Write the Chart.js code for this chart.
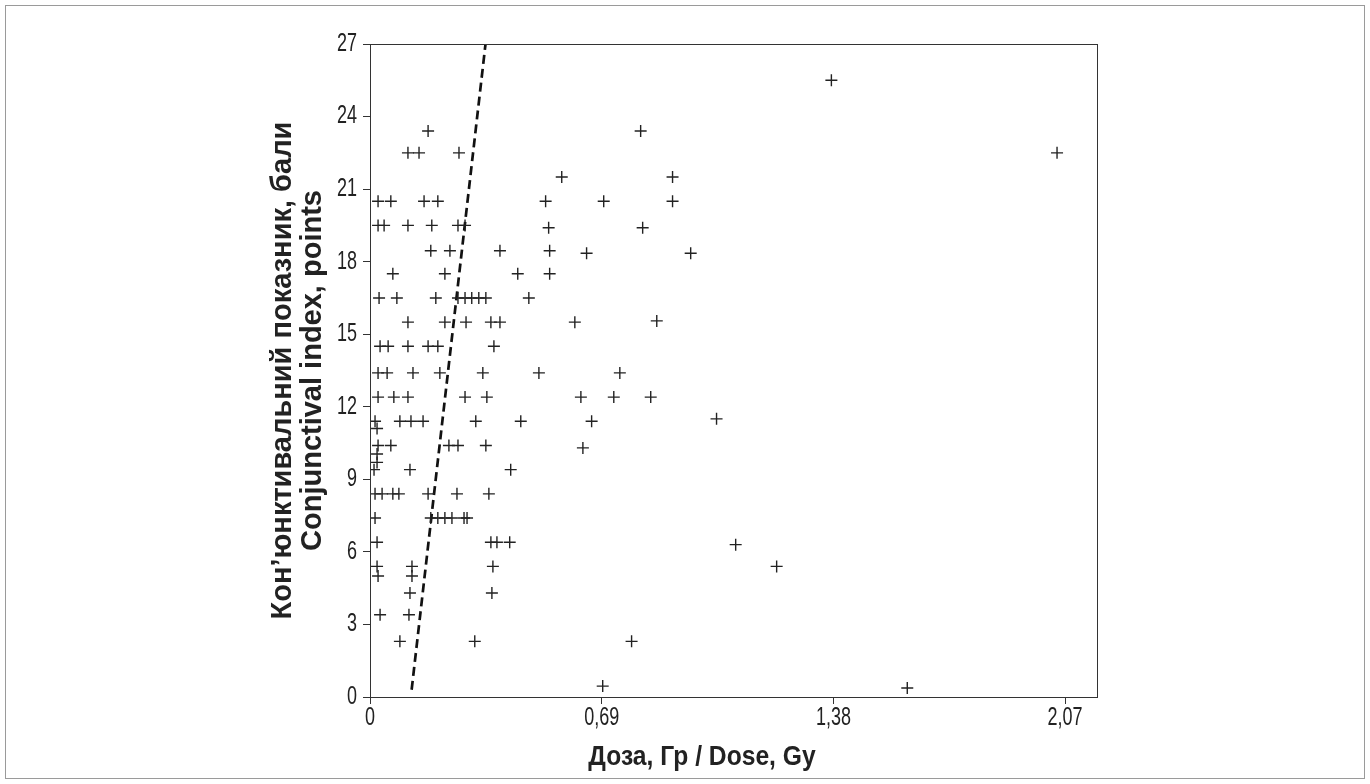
<!DOCTYPE html>
<html>
<head>
<meta charset="utf-8">
<script src="https://cdn.jsdelivr.net/npm/chart.js@4.4.1/dist/chart.umd.min.js"></script>
<style>
  body { margin: 0; background: #ffffff; }
  #wrap { position: relative; width: 1370px; height: 784px; }
  #frame {
    position: absolute; left: 5px; top: 5px; width: 1358px; height: 772px;
    border: 1px solid #9a9a9a; pointer-events: none;
  }
</style>
</head>
<body>
<div id="wrap">
  <canvas id="doseChart" width="1370" height="784"></canvas>
  <div id="frame"></div>
</div>
<script>
// dose (Gy) and conjunctival index (points)
const doseGy = [
  1.374,
  0.173, 0.806,
  0.113, 0.146, 0.265, 2.046,
  0.571, 0.901,
  0.024, 0.062, 0.161, 0.202, 0.523, 0.696, 0.901,
  0.024, 0.042, 0.113, 0.184, 0.262, 0.283, 0.532, 0.812,
  0.181, 0.238, 0.387, 0.535, 0.645, 0.955,
  0.068, 0.223, 0.440, 0.535,
  0.027, 0.080, 0.196, 0.262, 0.283, 0.303, 0.324, 0.345, 0.473,
  0.113, 0.223, 0.286, 0.360, 0.387, 0.610, 0.854,
  0.030, 0.054, 0.113, 0.173, 0.202, 0.369,
  0.024, 0.051, 0.128, 0.208, 0.336, 0.503, 0.744,
  0.024, 0.071, 0.113, 0.283, 0.348, 0.628, 0.726, 0.836,
  0.015, 0.089, 0.122, 0.158, 0.315, 0.449, 0.660, 1.032,
  0.021,
  0.024, 0.062, 0.235, 0.262, 0.345, 0.634,
  0.021,
  0.021,
  0.012, 0.119, 0.419,
  0.015, 0.036, 0.068, 0.086, 0.173, 0.259, 0.354,
  0.015, 0.181, 0.202, 0.223, 0.244, 0.280, 0.289,
  0.021, 0.360, 0.378, 0.416, 1.089,
  0.021, 0.125, 0.366, 1.211,
  0.024, 0.125,
  0.119, 0.363,
  0.030, 0.116,
  0.089, 0.312, 0.779,
  0.693, 1.600
];
const conjIndex = [
  25.5,
  23.4, 23.4,
  22.5, 22.5, 22.5, 22.5,
  21.5, 21.5,
  20.5, 20.5, 20.5, 20.5, 20.5, 20.5, 20.5,
  19.5, 19.5, 19.5, 19.5, 19.5, 19.5, 19.4, 19.4,
  18.45, 18.45, 18.45, 18.45, 18.35, 18.35,
  17.5, 17.5, 17.5, 17.5,
  16.5, 16.5, 16.5, 16.5, 16.5, 16.5, 16.5, 16.5, 16.5,
  15.5, 15.5, 15.5, 15.5, 15.5, 15.5, 15.55,
  14.5, 14.5, 14.5, 14.5, 14.5, 14.5,
  13.4, 13.4, 13.4, 13.4, 13.4, 13.4, 13.4,
  12.4, 12.4, 12.4, 12.4, 12.4, 12.4, 12.4, 12.4,
  11.4, 11.4, 11.4, 11.4, 11.4, 11.4, 11.4, 11.5,
  11.1,
  10.4, 10.4, 10.4, 10.4, 10.4, 10.3,
  10.05,
  9.7,
  9.4, 9.4, 9.4,
  8.4, 8.4, 8.4, 8.4, 8.4, 8.4, 8.4,
  7.4, 7.4, 7.4, 7.4, 7.4, 7.4, 7.4,
  6.4, 6.4, 6.4, 6.4, 6.3,
  5.4, 5.4, 5.4, 5.4,
  5.0, 5.0,
  4.3, 4.3,
  3.4, 3.4,
  2.3, 2.3, 2.3,
  0.45, 0.37
];

// dashed trend line end points
const fitDose = [0.124, 0.344];
const fitIndex = [0.3, 27];

const xTickValues = [0, 0.69, 1.38, 2.07];
const yMin = 0;
const yMax = 27;
const yStep = 3;
const xMax = 2.165;

const xTitle = "Доза, Гр / Dose, Gy";
const yTitle = ["Кон\u2019юнктивальний показник, бали", "Conjunctival index, points"];

const FONT = "'Liberation Sans', Arial, sans-serif";
const INK = "#222222";

function fmtDose(v) {
  return v === 0 ? "0" : v.toFixed(2).replace(".", ",");
}

// draws text squeezed horizontally, the figure uses a condensed face
function narrowText(ctx, text, x, y, squeeze, align) {
  ctx.save();
  ctx.translate(x, y);
  ctx.scale(squeeze, 1);
  ctx.textAlign = align;
  ctx.fillText(text, 0, 0);
  ctx.restore();
}

const framePlugin = {
  id: "plotFrame",
  afterDraw(chart) {
    const { ctx, chartArea, scales } = chart;
    ctx.save();
    ctx.strokeStyle = "#333333";
    ctx.lineWidth = 1;
    ctx.strokeRect(
      Math.round(chartArea.left) + 0.5,
      Math.round(chartArea.top) + 0.5,
      Math.round(chartArea.right - chartArea.left),
      Math.round(chartArea.bottom - chartArea.top),
    );

    ctx.fillStyle = INK;
    ctx.textBaseline = "middle";
    ctx.font = `25px ${FONT}`;
    scales.x.ticks.forEach((t) => {
      const px = scales.x.getPixelForValue(t.value);
      narrowText(ctx, fmtDose(t.value), px, chartArea.bottom + 21, 0.72, "center");
    });
    scales.y.ticks.forEach((t) => {
      const py = scales.y.getPixelForValue(t.value);
      narrowText(ctx, String(t.value), chartArea.left - 13, py, 0.72, "right");
    });

    ctx.font = `bold 28px ${FONT}`;
    narrowText(ctx, xTitle, 702, chartArea.bottom + 60, 0.88, "center");
    ctx.restore();
  },
};

function makeChart() {
  const ctx = document.getElementById("doseChart").getContext("2d");
  return new Chart(ctx, {
    type: "scatter",
    data: {
      datasets: [
        {
          data: doseGy.map((d, i) => ({ x: d, y: conjIndex[i] })),
          pointStyle: "cross",
          pointRadius: 6,
          pointBorderWidth: 1.4,
          pointBorderColor: INK,
          pointBackgroundColor: INK,
        },
        {
          type: "line",
          data: fitDose.map((d, i) => ({ x: d, y: fitIndex[i] })),
          borderColor: "#111111",
          borderWidth: 2.7,
          borderDash: [9, 5],
          pointRadius: 0,
          fill: false,
        },
      ],
    },
    options: {
      responsive: false,
      animation: false,
      layout: { padding: { left: 268, top: 44, right: 273, bottom: 10 } },
      plugins: {
        legend: { display: false },
        tooltip: { enabled: false },
      },
      scales: {
        x: {
          type: "linear",
          min: 0,
          max: xMax,
          afterBuildTicks: (scale) => {
            scale.ticks = xTickValues.map((v) => ({ value: v }));
          },
          afterFit: (scale) => {
            scale.height = 77;
          },
          grid: {
            drawOnChartArea: false,
            drawTicks: true,
            tickLength: 7,
            color: "#333333",
          },
          border: { display: true, color: "#333333" },
          ticks: { display: false },
        },
        y: {
          type: "linear",
          min: yMin,
          max: yMax,
          afterFit: (scale) => {
            scale.width = 102;
          },
          grid: {
            drawOnChartArea: false,
            drawTicks: true,
            tickLength: 7,
            color: "#333333",
          },
          border: { display: true, color: "#333333" },
          ticks: { display: false, stepSize: yStep },
          title: {
            display: true,
            text: yTitle,
            color: INK,
            padding: { top: 0, bottom: 0 },
            font: { family: FONT, size: 29, weight: "bold", lineHeight: "30px" },
          },
        },
      },
    },
    plugins: [framePlugin],
  });
}

makeChart();
</script>
</body>
</html>
